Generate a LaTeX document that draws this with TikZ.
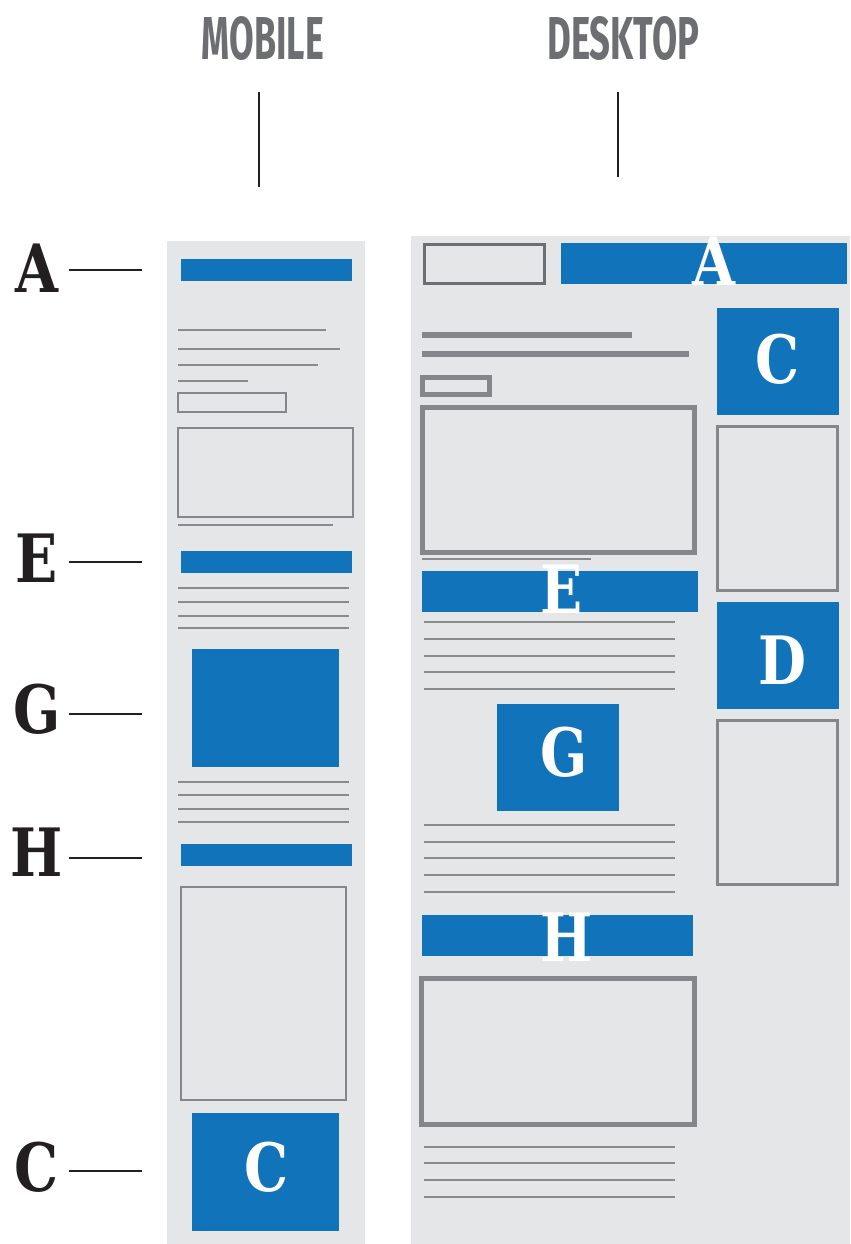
\documentclass[tikz,border=0pt]{standalone}
\usepackage{fontspec}
\usepackage{graphicx}
\newfontfamily\labfont{DejaVu Serif}
\newfontfamily\titfont{Fira Sans}
\newcommand{\ltr}[1]{\scalebox{0.83}[1]{#1}}
\definecolor{wfblue}{HTML}{1174BB}
\definecolor{wfpanel}{HTML}{E5E6E8}
\definecolor{wfline}{HTML}{8A8B8D}
\definecolor{wfbox}{HTML}{858689}
\definecolor{wfdark}{HTML}{231F20}
\definecolor{wftitle}{HTML}{6D6E71}
\begin{document}
\begin{tikzpicture}[x=0.75pt,y=-0.75pt,
  lab/.style={font=\labfont\bfseries\fontsize{50}{50}\selectfont, text=wfdark, inner sep=0pt, anchor=base},
  wlab/.style={lab, text=white},
  ttl/.style={inner sep=0pt, anchor=base west, text=wftitle},
  pointer/.style={draw=wfdark, line width=2pt},
  panel/.style={fill=wfpanel},
  bluebox/.style={fill=wfblue},
  txt/.style={draw=wfline, line width=2pt},
  txtthick/.style={draw=wfbox, line width=3.8pt},
  thinbox/.style={draw=wfbox, line width=1.8pt},
  midbox/.style={draw=wfbox, line width=2.1pt},
  thickbox/.style={draw=wfbox, line width=3.9pt}
]
\useasboundingbox (0,0) rectangle (850,1244);

% titles
\node[ttl] (tmob) at (201.7,60) {\resizebox{91.5pt}{32.25pt}{\titfont\bfseries MOBILE}};
\node[ttl] (tdesk) at (547,60) {\resizebox{114pt}{32.25pt}{\titfont\bfseries DESKTOP}};
\coordinate (mt) at (259,92); \coordinate (mb) at (259,187);
\coordinate (dt) at (618,92); \coordinate (db) at (618,177);
\draw[pointer] (mt) -- (mb);
\draw[pointer] (dt) -- (db);

% left labels
\node[lab] (lA) at (36.5,292) {\ltr{A}};
\node[lab] (lE) at (37,582) {\ltr{E}};
\node[lab] (lG) at (37,733) {\ltr{G}};
\node[lab] (lH) at (36.5,876) {\ltr{H}};
\node[lab] (lC) at (36.5,1191) {\ltr{C}};
\foreach \n/\y in {A/270,E/562,G/714,H/858,C/1171}{
  \coordinate (p\n a) at (69,\y); \coordinate (p\n b) at (142,\y);
  \draw[pointer] (p\n a) -- (p\n b);
}

% ---------- mobile panel ----------
\fill[panel] (167,241) rectangle (365,1244);
\fill[bluebox] (181,259) rectangle (352,281);
\draw[txt] (178,330) -- (326,330);
\draw[txt] (178,349) -- (340,349);
\draw[txt] (178,365) -- (318,365);
\draw[txt] (178,381) -- (248,381);
\draw[thinbox] (178.2,393.2) rectangle (285.8,411.8);
\draw[thinbox] (178,428) rectangle (353,517);
\draw[txt] (178,525) -- (333,525);
\fill[bluebox] (181,551) rectangle (352,573);
\foreach \y in {588,602,616,628}{\draw[txt] (178,\y) -- (349,\y);}
\fill[bluebox] (192,649) rectangle (339,767);
\foreach \y in {782,795,809,822}{\draw[txt] (178,\y) -- (349,\y);}
\fill[bluebox] (181,844) rectangle (352,866);
\draw[thinbox] (181,887) rectangle (346,1100);
\fill[bluebox] (192,1113) rectangle (339,1231);
\node[wlab] (mC) at (267,1191) {\ltr{C}};

% ---------- desktop panel ----------
\fill[panel] (411,236) rectangle (850,1244);
\draw[midbox, draw=wftitle] (424.5,244.5) rectangle (544.5,283.5);
\fill[bluebox] (561,243) rectangle (847,284);
\node[wlab] (dA) at (714,286) {\ltr{A}};
\fill[bluebox] (717,308) rectangle (839,415);
\node[wlab] (dC) at (778,383) {\ltr{C}};
\draw[txtthick] (422,335) -- (632,335);
\draw[txtthick] (422,354) -- (689,354);
\draw[thickbox] (422.5,377.5) rectangle (489.5,394.5);
\draw[thickbox] (422.5,407.5) rectangle (694.5,552.5);
\draw[txt] (422,559) -- (591,559);
\draw[midbox] (717.4,426.4) rectangle (837.6,590.6);
\fill[bluebox] (422,571) rectangle (698,612);
\node[wlab] (dE) at (562,613) {\ltr{E}};
\foreach \y in {622,639,656,672,689}{\draw[txt] (424,\y) -- (675,\y);}
\fill[bluebox] (717,602) rectangle (839,709);
\node[wlab] (dD) at (782,684) {\ltr{D}};
\draw[midbox] (717.4,720.4) rectangle (837.6,884.6);
\fill[bluebox] (497,704) rectangle (619,811);
\node[wlab] (dG) at (564,776) {\ltr{G}};
\foreach \y in {825,842,858,875,892}{\draw[txt] (424,\y) -- (675,\y);}
\fill[bluebox] (422,915) rectangle (693,956);
\node[wlab] (dH) at (567,961) {\ltr{H}};
\draw[thickbox] (421.7,978.7) rectangle (694.3,1124.3);
\foreach \y in {1147,1163,1180,1197}{\draw[txt] (424,\y) -- (675,\y);}
\end{tikzpicture}
\end{document}
